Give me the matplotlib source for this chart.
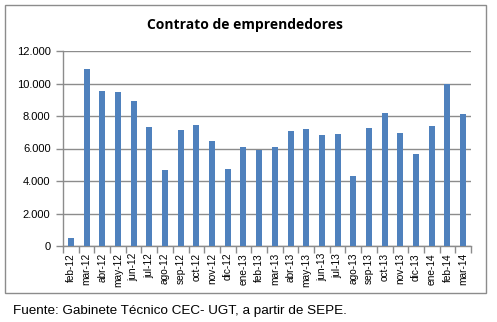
import matplotlib
matplotlib.use("Agg")
import matplotlib.pyplot as plt
from matplotlib.patches import Rectangle
import numpy as np

categories = ["feb-12", "mar-12", "abr-12", "may-12", "jun-12", "jul-12", "ago-12",
              "sep-12", "oct-12", "nov-12", "dic-12", "ene-13", "feb-13", "mar-13",
              "abr-13", "may-13", "jun-13", "jul-13", "ago-13", "sep-13", "oct-13",
              "nov-13", "dic-13", "ene-14", "feb-14", "mar-14"]
values = [500, 10900, 9540, 9480, 8920, 7320, 4680, 7140, 7450, 6460, 4740, 6090,
          5910, 6090, 7080, 7200, 6830, 6890, 4310, 7260, 8190, 6950, 5660, 7390,
          9990, 8120]
yticks = [0, 2000, 4000, 6000, 8000, 10000, 12000]
ytick_labels = ["0", "2.000", "4.000", "6.000", "8.000", "10.000", "12.000"]
title = "Contrato de emprendedores"
source = "Fuente: Gabinete Técnico CEC- UGT, a partir de SEPE."

W, H = 497, 322
fig = plt.figure(figsize=(W / 100, H / 100), dpi=100)
fig.patch.set_facecolor("white")

# chart border
fig.add_artist(Rectangle((5 / W, 1 - 293 / H), (486 - 5) / W, (293 - 5) / H,
                         transform=fig.transFigure, fill=False,
                         edgecolor="#8c8c8c", linewidth=1.0))

ax = fig.add_axes([63 / W, 1 - 246 / H, (471 - 63) / W, (246 - 51) / H])
x = np.arange(len(categories))
ax.bar(x, values, width=0.38, color="#4F81BD", zorder=3)
ax.set_xlim(-0.5, len(categories) - 0.5)
ax.set_ylim(0, 12000)
ax.set_yticks(yticks)
ax.set_yticklabels(ytick_labels, fontsize=8, family="Liberation Sans")
ax.yaxis.grid(True, color="#8c8c8c", linewidth=1.0, zorder=0)
ax.set_xticks(x)
ax.set_xticklabels(categories, rotation=90, fontsize=7.3, family="Liberation Sans")
ax.tick_params(axis="x", length=0, pad=5)
ax.set_xticks(np.arange(-0.5, len(categories), 1), minor=True)
ax.tick_params(axis="x", which="minor", length=5, color="#8c8c8c", width=1)
ax.tick_params(axis="y", length=5, color="#8c8c8c", width=1, pad=4)
for s in ["top", "right"]:
    ax.spines[s].set_visible(False)
for s in ["left", "bottom"]:
    ax.spines[s].set_color("#8c8c8c")
    ax.spines[s].set_linewidth(1.0)

fig.text(245 / W, 1 - 25 / H, title, ha="center", va="center",
         fontsize=10, fontweight="bold", family="Open Sans")
fig.text(13 / W, 1 - 311 / H, source, ha="left", va="center",
         fontsize=9.7, family="Liberation Sans")

fig.savefig("out.png", dpi=100)
